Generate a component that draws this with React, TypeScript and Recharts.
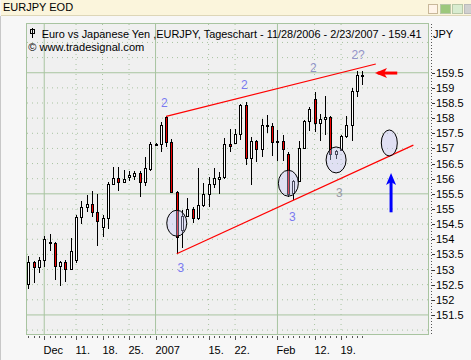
import React from 'react';
import { ComposedChart, Bar, Scatter, XAxis, YAxis, CartesianGrid, ReferenceLine, ReferenceDot } from 'recharts';

// daily EURJPY candles, 11/28/2006 - 2/23/2007
const OPEN = [
  152.51, 153.24, 153.08, 153.32, 153.91, 153.87, 153.10, 153.24, 153.01, 153.30,
  154.73, 155.06, 155.17, 154.89, 154.42, 154.70, 155.82, 156.02, 155.89, 156.05,
  156.09, 156.18, 155.89, 156.33, 157.13, 157.14, 158.03, 157.21, 155.55, 154.31,
  154.77, 154.99, 154.70, 155.13, 155.49, 155.82, 155.98, 156.04, 157.14, 157.18,
  157.47, 158.44, 156.68, 157.26, 156.98, 157.78, 157.75, 157.25, 157.25, 156.83,
  155.52, 155.93, 157.01, 157.91, 158.63, 157.84, 157.98, 158.05, 156.81, 156.96,
  157.40, 157.76, 158.91, 159.43,
];
const HIGH = [
  153.45, 153.29, 153.43, 154.11, 154.18, 153.90, 153.27, 153.32, 154.04, 154.79,
  155.27, 155.46, 155.59, 155.49, 154.79, 155.89, 156.40, 156.40, 156.29, 156.27,
  156.27, 156.26, 156.73, 157.21, 157.18, 157.86, 158.06, 157.32, 155.61, 154.97,
  155.36, 155.06, 156.35, 155.85, 156.04, 156.35, 156.22, 157.34, 157.64, 157.64,
  158.48, 158.55, 157.37, 157.29, 157.98, 158.11, 157.84, 157.62, 157.45, 156.87,
  155.95, 157.25, 157.94, 158.37, 158.86, 158.13, 158.74, 158.07, 156.96, 157.45,
  158.08, 158.99, 159.57, 159.57,
];
const LOW = [
  152.35, 152.55, 152.90, 153.08, 153.60, 152.64, 152.44, 152.60, 152.97, 153.21,
  154.51, 154.89, 154.75, 153.79, 154.07, 154.34, 155.80, 155.58, 155.87, 155.91,
  155.96, 155.41, 155.76, 156.25, 157.09, 156.87, 157.06, 155.52, 153.52, 153.70,
  154.73, 154.53, 154.64, 155.08, 155.08, 155.69, 155.49, 155.98, 156.87, 157.14,
  157.29, 156.46, 155.78, 156.54, 156.73, 157.51, 156.76, 156.57, 156.57, 155.41,
  155.30, 155.89, 156.98, 157.56, 157.54, 157.26, 157.45, 156.62, 156.66, 156.90,
  157.34, 157.25, 158.69, 159.08,
];
const CLOSE = [
  153.24, 153.08, 153.32, 154.00, 153.86, 153.11, 153.24, 153.01, 153.62, 154.73,
  155.06, 155.17, 154.89, 154.60, 154.70, 155.84, 156.02, 155.89, 155.98, 156.12,
  156.18, 155.89, 156.35, 157.14, 157.15, 157.78, 157.20, 155.55, 154.09, 154.77,
  154.99, 154.69, 155.13, 155.49, 155.82, 156.02, 156.04, 157.14, 157.08, 157.47,
  158.44, 156.68, 157.26, 156.98, 157.76, 157.73, 157.22, 157.21, 156.98, 155.49,
  155.93, 157.01, 157.91, 158.31, 157.84, 157.97, 158.05, 156.81, 156.90, 157.42,
  157.76, 158.91, 159.43, 159.41,
];

// x axis: trading-day index of the labelled dates
const LABEL_IDX = [3, 9, 14, 19, 24, 34, 39, 47, 54, 59];
const LABEL_TEXT = ['Dec', '11.', '18.', '25.', '2007', '15.', '22.', 'Feb', '12.', '19.'];
const MONTH_IDX = [3, 24, 47];
const WEEK_IDX = [9, 14, 19, 34, 39, 54, 59];

const Y_TICKS = [151.5, 152, 152.5, 153, 153.5, 154, 154.5, 155, 155.5, 156, 156.5, 157, 157.5, 158, 158.5, 159, 159.5];
const Y_DOTTED = [151, 152, 152.5, 153, 153.5, 154, 154.5, 155, 156, 156.5, 157, 157.5, 158, 158.5, 159, 160, 160.5];
const Y_SOLID = [151.5, 155.5, 159.5];

// drawn annotations (trend channel, circles, wave counts, arrows)
const UPPER_LINE = [{ x: 26, y: 158.06 }, { x: 65.55, y: 159.79 }];
const LOWER_LINE = [{ x: 28, y: 153.52 }, { x: 72.64, y: 157.11 }];
const CIRCLE_X = [28.0, 49.06, 58.06, 68.1];
const CIRCLE_Y = [154.53, 155.85, 156.62, 157.18];
const WAVE_TEXT = ['2', '2', '2', '2?', '3', '3', '3'];
const WAVE_X = [25.66, 40.75, 53.77, 62.21, 28.75, 49.81, 58.68];
const WAVE_Y = [158.5, 159.1, 159.67, 160.07, 153.04, 154.73, 155.54];
const BLUE_ARROW = [{ x: 68.43, y: 154.89 }, { x: 68.43, y: 155.95 }];
const BLUE_TIP = { x: 68.43, y: 156.19 };
const RED_ARROW = [{ x: 69.6, y: 159.49 }, { x: 65.9, y: 159.49 }];
const RED_TIP = { x: 65.4, y: 159.49 };

const WAVE_COLORS = ['#7a7af0', '#7a7af0', '#9494c8', '#9494c8', '#7a7af0', '#7a7af0', '#9a9aa8'];
const GRID = '#a8c4a0';
const FONT = '"Liberation Sans", Arial, sans-serif';

const data = OPEN.map((o, i) => ({ i, o, h: HIGH[i], l: LOW[i], c: CLOSE[i], range: [LOW[i], HIGH[i]] }));
const circles = CIRCLE_X.map((x, k) => ({ i: x, cy: CIRCLE_Y[k], k }));
const DAY_TICKS = data.map(d => d.i);

const Candle = (props: any) => {
  const { x, y, width, height, payload } = props;
  if (x == null || !payload) return null;
  const top = Math.min(y, y + height);
  const bot = Math.max(y, y + height);
  const { o, h, l, c } = payload;
  const span = h - l || 1;
  const py = (v: number) => top + ((h - v) / span) * (bot - top);
  const cx = Math.round(x + width / 2) + 0.5;
  const bTop = Math.round(Math.min(py(o), py(c))) + 0.5;
  let bBot = Math.round(Math.max(py(o), py(c))) + 0.5;
  if (bBot - bTop < 1) bBot = bTop + 1;
  return (
    <g>
      <line x1={cx} x2={cx} y1={Math.round(top)} y2={Math.round(bot)} stroke="#000" />
      <rect x={cx - 1} y={bTop} width={2} height={bBot - bTop} fill={c >= o ? '#fff' : '#f00000'} stroke="#000" />
    </g>
  );
};

// circles sit above the candles in recharts' layering, so the fill is see-through
const Ellipse = (p: any) => (
  <ellipse cx={p.cx} cy={p.cy} rx={p.payload && p.payload.k === 3 ? 8 : 10} ry={13}
    fill="#c4c4f6" fillOpacity={0.38} stroke="#000" />
);

const XTick = ({ x, y, payload }: any) => {
  const k = LABEL_IDX.indexOf(payload.value);
  const xr = Math.round(x) + 0.5;
  return (
    <g>
      <line x1={xr} x2={xr} y1={y + 2} y2={k >= 0 ? y + 6 : y + 4} stroke="#555" />
      {k >= 0 && (
        <text x={xr - 1} y={y + 16} fontSize={11} fontFamily={FONT} fill="#000" dominantBaseline="central">
          {LABEL_TEXT[k]}
        </text>
      )}
    </g>
  );
};

const YTick = ({ x, y, payload }: any) => (
  <g>
    <line x1={x + 4} x2={x + 7} y1={Math.round(y) + 0.5} y2={Math.round(y) + 0.5} stroke="#333" />
    <text x={x + 8} y={y} fontSize={11} fontFamily={FONT} fill="#000" dominantBaseline="central">
      {payload.value}
    </text>
  </g>
);

export default function App() {
  return (
    <div style={{ position: 'absolute', left: 0, top: 0, width: 471, height: 360, background: '#f7f7f7', overflow: 'hidden', fontFamily: FONT }}>
      <div style={{ position: 'absolute', left: 1, top: 0, width: 470, height: 15, background: '#fbf5dc', borderBottom: '1px solid #ddd6b8' }}>
        <span style={{ position: 'absolute', left: 2, top: 1, fontSize: 11, color: '#000' }}>EURJPY EOD</span>
        <div style={{ position: 'absolute', left: 427, top: 4, width: 8, height: 8, border: '1px solid #c8b89a', background: '#fff4e8' }} />
        <div style={{ position: 'absolute', left: 439, top: 4, width: 9, height: 8, border: '1px solid #b8c8a8', background: '#9cc87c' }} />
        <div style={{ position: 'absolute', left: 451, top: 4, width: 9, height: 8, border: '1px solid #b8c8a8', background: '#d8ecd0' }} />
        <div style={{ position: 'absolute', left: 463, top: 4, width: 8, height: 8, border: '1px solid #bbb', background: '#d0d0d0' }} />
      </div>
      <div style={{ position: 'absolute', left: 0, top: 16, width: 1, height: 344, background: '#c8c8c8' }} />
      <div style={{ position: 'absolute', left: 26, top: 23, width: 401, height: 310, background: '#f0f0f0', border: `1px solid ${GRID}` }} />
      <div style={{ position: 'absolute', left: 0, top: 0 }}>
        <ComposedChart width={471} height={360} data={data} margin={{ top: 24, right: 0, bottom: 0, left: 27 }}>
          <CartesianGrid horizontalValues={Y_DOTTED} verticalValues={WEEK_IDX} stroke={GRID} strokeDasharray="1 4" />
          <CartesianGrid horizontalValues={Y_SOLID} verticalValues={MONTH_IDX} stroke={GRID} />
          <XAxis dataKey="i" type="number" domain={[-0.25, 75.4]} allowDataOverflow ticks={DAY_TICKS} interval={0}
            height={26} tickSize={0} tickMargin={0} axisLine={false} tickLine={false} tick={<XTick />} />
          <YAxis orientation="right" type="number" domain={[150.87, 161.11]} allowDataOverflow ticks={Y_TICKS} interval={0}
            width={43} tickSize={0} tickMargin={0} axisLine={false} tickLine={false} tick={<YTick />} />
          <Bar dataKey="range" barSize={3} shape={Candle} isAnimationActive={false} />
          <Scatter data={circles} dataKey="cy" shape={Ellipse} isAnimationActive={false} />
          <ReferenceLine segment={UPPER_LINE} stroke="#ff0000" strokeWidth={1.2} />
          <ReferenceLine segment={LOWER_LINE} stroke="#ff0000" strokeWidth={1.2} />
          <ReferenceLine segment={BLUE_ARROW} stroke="#0000ff" strokeWidth={3} />
          <ReferenceDot x={BLUE_TIP.x} y={BLUE_TIP.y} r={5}
            shape={(p: any) => <path d={`M${p.cx},${p.cy} L${p.cx + 5},${p.cy + 12} L${p.cx},${p.cy + 9} L${p.cx - 5},${p.cy + 12} Z`} fill="#0000ff" />} />
          <ReferenceLine segment={RED_ARROW} stroke="#ff0000" strokeWidth={3} />
          <ReferenceDot x={RED_TIP.x} y={RED_TIP.y} r={5}
            shape={(p: any) => <path d={`M${p.cx},${p.cy} L${p.cx + 12},${p.cy - 5} L${p.cx + 9},${p.cy} L${p.cx + 12},${p.cy + 5} Z`} fill="#ff0000" />} />
          {WAVE_TEXT.map((t, k) => (
            <ReferenceDot key={'w' + k} x={WAVE_X[k]} y={WAVE_Y[k]} r={4}
              shape={(p: any) => (
                <text x={p.cx} y={p.cy} textAnchor="middle" dominantBaseline="central" fontSize={12} fontFamily={FONT} fill={WAVE_COLORS[k]}>{t}</text>
              )} />
          ))}
        </ComposedChart>
      </div>
      <svg width={471} height={360} style={{ position: 'absolute', left: 0, top: 0, pointerEvents: 'none' }}>
        <line x1={431.5} x2={431.5} y1={24} y2={336} stroke="#555" strokeDasharray="1 2" />
        <g stroke="#000" fill="none">
          <line x1={32.5} x2={32.5} y1={28} y2={38} />
          <rect x={30.5} y={29.5} width={4} height={4} />
        </g>
        <text x={41.7} y={33.5} fontSize={11} fontFamily={FONT} fill="#000" dominantBaseline="central" textLength={380} lengthAdjust="spacingAndGlyphs">
          Euro vs Japanese Yen ,EURJPY, Tageschart - 11/28/2006 - 2/23/2007 - 159.41
        </text>
        <text x={28.3} y={47} fontSize={11} fontFamily={FONT} fill="#000" dominantBaseline="central" textLength={116} lengthAdjust="spacingAndGlyphs">
          © www.tradesignal.com
        </text>
        <text x={433} y={33.5} fontSize={11} fontFamily={FONT} fill="#000" dominantBaseline="central">JPY</text>
      </svg>
    </div>
  );
}
